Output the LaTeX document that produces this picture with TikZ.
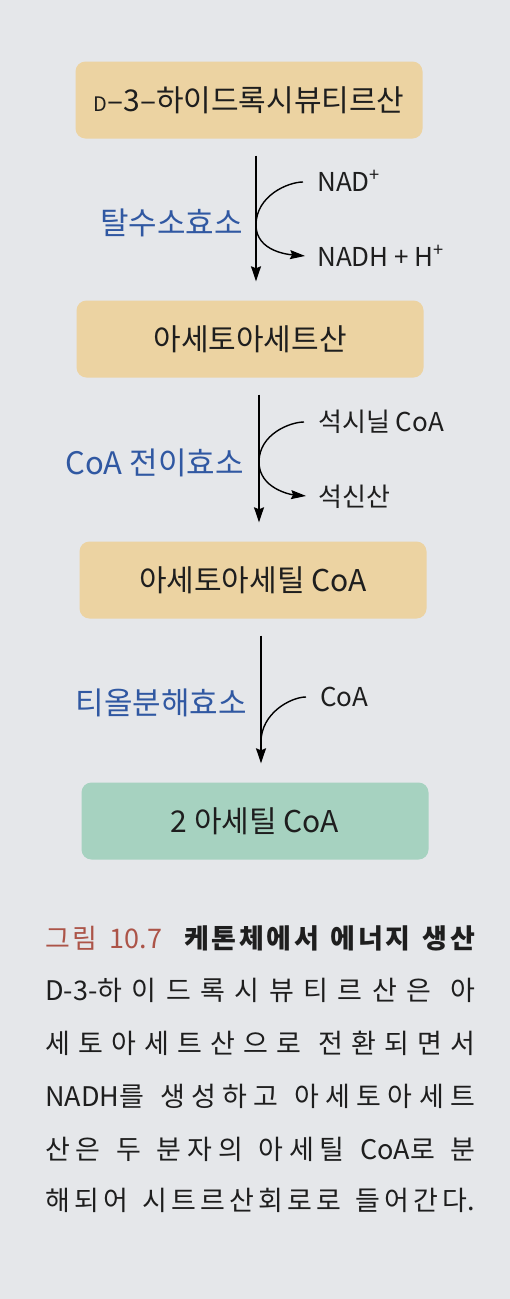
\documentclass[tikz,border=0pt]{standalone}
\usepackage{fontspec}
\setmainfont{Noto Sans CJK KR}
\usetikzlibrary{arrows.meta}
% spread hangul syllables evenly in the caption lines
\newcount\hangulcode
\hangulcode="AC00
\loop
  \XeTeXcharclass\hangulcode=3
  \advance\hangulcode by 1
\ifnum\hangulcode<"D7A4 \repeat
\XeTeXinterchartoks 3 3 = {\hskip 0pt plus 1fil}
\newcommand\capfont{\fontsize{27}{32}\selectfont\XeTeXinterchartokenstate=1
  \spaceskip=.35em plus 1fil\relax}
\definecolor{paper}{RGB}{229,231,234}
\definecolor{ketotan}{RGB}{236,211,162}
\definecolor{acetylgreen}{RGB}{166,210,192}
\definecolor{enzymeblue}{RGB}{48,88,162}
\definecolor{figred}{RGB}{172,84,72}
\definecolor{inkblack}{RGB}{30,30,30}

\begin{document}
\begin{tikzpicture}[x=1pt,y=1pt,
  compound/.style={rounded corners=10pt, minimum width=347pt, minimum height=77pt,
    inner sep=0pt, text=inkblack, font=\fontsize{30}{33}\selectfont},
  enzyme/.style={anchor=east, inner sep=0pt, text=enzymeblue, font=\fontsize{31}{34}\selectfont},
  side/.style={anchor=west, inner sep=0pt, text height=18pt, text depth=0pt,
    text=inkblack, font=\fontsize{26}{28}\selectfont},
  flow/.style={line width=1.6pt, -{Stealth[length=15pt,width=10pt,inset=2pt]},
    shorten <=17pt, shorten >=19pt},
  sideflow/.style={line width=1.4pt, shorten <=14pt},
  capline/.style={anchor=west, inner sep=0pt, text=inkblack, font=\capfont}]
  \fill[paper] (0,0) rectangle (510,-1299);
  \useasboundingbox (0,0) rectangle (510,-1299);

  % compounds
  \node[compound, fill=ketotan] (hbut) at (249,-100) {{\fontsize{20}{22}\selectfont D}–3–하이드록시뷰티르산};
  \node[compound, fill=ketotan] (acac) at (250,-339) {아세토아세트산};
  \node[compound, fill=ketotan] (acacoa) at (253,-580) {아세토아세틸 CoA};
  \node[compound, fill=acetylgreen] (acoa) at (255,-821) {2 아세틸 CoA};

  % where the side curves meet the main arrows
  \coordinate (j1) at (256,-225);
  \coordinate (j2) at (259,-462);
  \coordinate (j3) at (261,-742);

  \draw[flow] (hbut.south -| j1) -- (acac.north -| j1);
  \draw[flow] (acac.south -| j2) -- (acacoa.north -| j2);
  \draw[flow] (acacoa.south -| j3) -- (acoa.north -| j3);

  % step 1
  \node[enzyme] (dh) at (243,-223) {탈수소효소};
  \node[side] (nad) at (317,-182) {NAD\textsuperscript{+}};
  \node[side] (nadh) at (317,-257) {NADH + H\textsuperscript{+}};
  \draw[sideflow, -{Stealth[length=15pt,width=9pt,inset=2pt]}, shorten >=12pt]
    (nad.west) to[out=180,in=90] (j1) to[out=-90,in=175] (nadh.west);

  % step 2
  \node[enzyme] (ct) at (244,-463) {CoA 전이효소};
  \node[side] (succoa) at (318,-422) {석시닐 CoA};
  \node[side] (succ) at (318,-497) {석신산};
  \draw[sideflow, -{Stealth[length=15pt,width=9pt,inset=2pt]}, shorten >=12pt]
    (succoa.west) to[out=180,in=90] (j2) to[out=-90,in=175] (succ.west);

  % step 3
  \node[enzyme] (th) at (247,-703) {티올분해효소};
  \node[side] (coa) at (320,-697) {CoA};
  \draw[sideflow] (coa.west) to[out=180,in=90] (j3);

  % caption
  \node[capline] (cap1) at (45,-938) {\hbox to 430pt{{\color{figred}그림 10.7}\hskip 22pt{\bfseries 케톤체에서 에너지 생산}}};
  \node[capline] (cap2) at (45,-990) {\hbox to 430pt{D-3-하이드록시뷰티르산은 아}};
  \node[capline] (cap3) at (45,-1043) {\hbox to 430pt{세토아세트산으로 전환되면서}};
  \node[capline] (cap4) at (45,-1096) {\hbox to 430pt{NADH를 생성하고 아세토아세트}};
  \node[capline] (cap5) at (45,-1149) {\hbox to 430pt{산은 두 분자의 아세틸 CoA로 분}};
  \node[capline] (cap6) at (45,-1200) {\hbox to 430pt{해되어 시트르산회로로 들어간다.}};
\end{tikzpicture}
\end{document}
